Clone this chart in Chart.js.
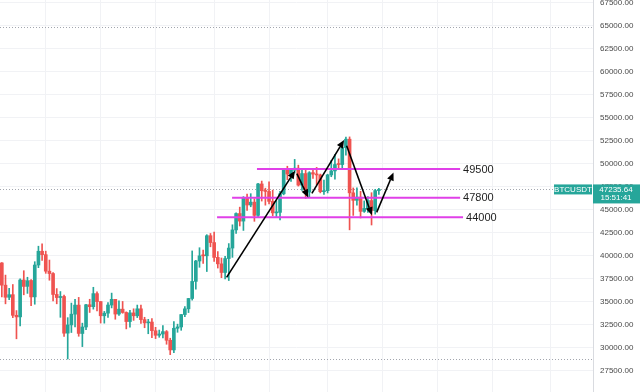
<!DOCTYPE html>
<html><head><meta charset="utf-8">
<script src="https://cdn.jsdelivr.net/npm/chart.js@4"></script>
<style>html,body{margin:0;padding:0;background:#fff;}#wrap{width:640px;height:392px;}</style>
</head><body><div id="wrap"><canvas id="c" width="640" height="392"></canvas></div>
<script>
// BTCUSDT daily candles, 2021-06-04 .. 2021-09-15
const startDate = '2021-06-04';
const slotCount = 162;
const opens  = [39246,36829,35516,35796,33556,33381,37389,36698,37340,35555,39020,40516,40143,38350,38092,35820,35484,35600,31614,32510,33675,34663,31577,32283,34702,34494,35911,35045,33502,33786,34669,35288,33690,34220,33863,32875,33816,33502,34259,33086,32729,32820,31874,31384,31521,31778,30839,29790,32144,32287,33635,34261,35381,37241,39456,40020,40018,42207,41461,39850,39147,38207,39723,40862,42836,44614,43794,46280,45543,45854,44415,47832,47097,47019,45936,44686,44741,46763,49339,48906,49322,49546,47707,48960,46942,49058,48903,48811,46991,47100,48811,49247,49944,49940,51786,52698,46864,46049,46395,44851,45173,46026,44940,47111];
const highs  = [39289,37925,36480,36900,34068,37530,38400,37690,37441,39380,41064,41330,40527,39559,38202,36457,36137,35750,33298,34881,35298,35500,32700,34749,35297,36600,36100,35057,33977,34945,35967,35293,35118,35059,33929,34100,34262,34666,34678,33340,33114,33185,32249,31950,32435,31899,31063,32858,32591,33650,34500,35398,40550,39542,40900,40640,42316,42448,42599,40480,39780,39969,41350,43392,44700,45310,46454,46718,46774,46218,47886,48144,47372,48053,47160,46000,47033,49382,49757,49500,50500,49875,49300,49375,49169,49475,49630,48907,48250,48888,50400,51054,50558,51900,52920,52944,47399,47400,47033,45985,46460,46880,47250,47360];
const lows   = [35555,34800,35258,33300,31000,32396,35782,35936,34600,34757,38730,39506,38116,37365,35129,34803,33336,31251,28805,31683,32286,31275,30151,32000,33862,34225,34017,32711,32699,33316,34357,33125,33532,33777,32077,32261,33004,33306,32658,32202,31550,31133,31020,31164,31108,30407,29278,29482,31708,31924,33401,33851,35205,36383,38772,39200,38313,41000,39422,38690,37642,37508,37332,39853,42446,43261,42779,44960,45351,43770,44218,45971,45525,45660,44376,44203,43927,46646,48300,48100,49029,47600,47136,46250,46362,48432,47762,46862,46700,46853,48617,48352,49400,49500,50969,42843,44412,45514,44134,44743,44742,43370,44550,46700];
const closes = [36829,35513,35796,33552,33380,37389,36693,37313,35551,39020,40516,40144,38349,38092,35819,35483,35600,31608,32509,33678,34663,31584,32283,34700,34494,35911,35045,33504,33786,34669,35287,33690,34220,33862,32875,33815,33502,34259,33086,32730,32820,31880,31383,31521,31778,30839,29790,32144,32287,33634,34258,35381,37237,39457,40019,40016,42206,41461,39845,39147,38207,39723,40862,42836,44614,43792,46285,45543,45854,44415,47832,47096,47019,45936,44686,44741,46763,49339,48905,49321,49546,47706,48960,46942,49058,48903,48811,46991,47100,48810,49247,49943,49940,51786,52699,46864,46049,46395,44851,45172,46026,44940,47111,47235.64];

// price axis
const priceMin = 25217, priceMax = 67826;
const priceTicks = [27500,30000,32500,35000,37500,40000,42500,45000,47500,50000,52500,55000,57500,60000,62500,65000,67500];
// reference price lines (all-time high, range low, last price)
const refLines = [64854, 28805, 47235.64];
// drawn horizontal levels (value on axis, label text, start/end candle index)
const levelValues = [49450, 46340, 44200];
const levelLabels = ['49500', '47800', '44000'];
const levelFrom   = [69.7, 62.9, 58.8];
const levelTo     = [125.2, 125.2, 126.0];
// drawn arrows (candle index, price)
const arrowFromIdx   = [61.4, 80.6, 84.7, 94.2, 102.4];
const arrowFromPrice = [37674, 48946, 46804, 51989, 44739];
const arrowToIdx     = [80.1, 83.7, 93.5, 101.1, 107.0];
const arrowToPrice   = [49272, 46370, 52609, 44435, 49087];
const symbol = 'BTCUSDT';
const countdown = '15:51:41';

const labels = [];
{
  const d0 = new Date(startDate + 'T00:00:00Z');
  for (let i = 0; i < slotCount; i++) {
    const d = new Date(d0.getTime() + i * 86400000);
    labels.push(d.toISOString().slice(0, 10));
  }
}
const UP = '#26a69a', DOWN = '#ef5350';
const candleColors = opens.map((o, i) => closes[i] >= o ? UP : DOWN);

function drawArrow(ctx, x1, y1, x2, y2) {
  const a = Math.atan2(y2 - y1, x2 - x1);
  const L = 8, W = 3.5;
  const bx = x2 - L * Math.cos(a), by = y2 - L * Math.sin(a);
  ctx.beginPath(); ctx.moveTo(x1, y1); ctx.lineTo(bx, by); ctx.stroke();
  ctx.beginPath(); ctx.moveTo(x2, y2);
  ctx.lineTo(bx + W * Math.sin(a), by - W * Math.cos(a));
  ctx.lineTo(bx - W * Math.sin(a), by + W * Math.cos(a));
  ctx.closePath(); ctx.fill();
}

const annot = {
  id: 'annot',
  beforeDatasetsDraw(chart) {
    const { ctx, chartArea: ca, scales: { y } } = chart;
    ctx.save();
    ctx.strokeStyle = '#a3a6ae'; ctx.lineWidth = 1; ctx.setLineDash([1, 2]);
    refLines.forEach(v => {
      const py = Math.round(y.getPixelForValue(v)) + 0.5;
      ctx.beginPath(); ctx.moveTo(ca.left, py); ctx.lineTo(ca.right, py); ctx.stroke();
    });
    ctx.restore();
  },
  afterDatasetsDraw(chart) {
    const { ctx, chartArea: ca, scales: { x, y } } = chart;
    ctx.save();
    ctx.beginPath(); ctx.rect(ca.left, ca.top, ca.right - ca.left, ca.bottom - ca.top); ctx.clip();
    ctx.strokeStyle = '#e040e8'; ctx.lineWidth = 2;
    levelValues.forEach((v, i) => {
      const py = y.getPixelForValue(v);
      ctx.beginPath(); ctx.moveTo(x.getPixelForValue(levelFrom[i]), py); ctx.lineTo(x.getPixelForValue(levelTo[i]), py); ctx.stroke();
    });
    ctx.fillStyle = '#1e1e1e'; ctx.font = '11px "Liberation Sans", Arial, sans-serif';
    ctx.textBaseline = 'middle'; ctx.textAlign = 'left';
    levelValues.forEach((v, i) => {
      ctx.fillText(levelLabels[i], x.getPixelForValue(levelTo[i]) + 3, y.getPixelForValue(v) + 0.5);
    });
    ctx.strokeStyle = '#000'; ctx.fillStyle = '#000'; ctx.lineWidth = 1.6;
    arrowFromIdx.forEach((fi, i) => {
      drawArrow(ctx, x.getPixelForValue(fi), y.getPixelForValue(arrowFromPrice[i]),
                x.getPixelForValue(arrowToIdx[i]), y.getPixelForValue(arrowToPrice[i]));
    });
    ctx.restore();
  },
  afterDraw(chart) {
    const { ctx, chartArea: ca, scales: { y } } = chart;
    const last = closes[closes.length - 1];
    const py = y.getPixelForValue(last);
    ctx.save();
    ctx.fillStyle = UP;
    ctx.fillRect(ca.right - 39, py - 5, 38, 10);
    ctx.fillRect(ca.right, py - 5, chart.width - ca.right, 19);
    ctx.fillStyle = '#fff'; ctx.font = '8px "Liberation Sans", Arial, sans-serif';
    ctx.textBaseline = 'middle'; ctx.textAlign = 'center';
    ctx.fillText(symbol, ca.right - 20, py + 0.5);
    ctx.fillText(last.toFixed(2), ca.right + 23, py + 0.5);
    ctx.fillText(countdown, ca.right + 23, py + 8.5);
    ctx.restore();
  }
};

new Chart(document.getElementById('c'), {
  type: 'bar',
  data: {
    labels: labels,
    datasets: [
      { label: 'body', data: opens.map((o, i) => [o, closes[i]]), backgroundColor: candleColors,
        barThickness: 3, grouped: false, minBarLength: 1, borderWidth: 0 },
      { label: 'wick', data: lows.map((l, i) => [l, highs[i]]), backgroundColor: candleColors,
        barThickness: 1, grouped: false, borderWidth: 0 }
    ]
  },
  options: {
    responsive: false, animation: false, maintainAspectRatio: false,
    layout: { padding: 0 },
    plugins: { legend: { display: false }, tooltip: { enabled: false } },
    scales: {
      x: {
        display: true, offset: true,
        ticks: { display: false, autoSkip: false },
        grid: { offset: false, drawTicks: false, lineWidth: 1,
          color: c => { const l = labels[c.index] || ''; const d = l.slice(8, 10); return (d === '01' || d === '16') ? '#f1f2f5' : 'rgba(0,0,0,0)'; } },
        border: { display: false },
        afterFit: s => { s.height = 0; s.paddingLeft = 0; s.paddingRight = 0; }
      },
      y: {
        position: 'right', min: priceMin, max: priceMax,
        afterBuildTicks: s => { s.ticks = priceTicks.map(v => ({ value: v })); },
        ticks: { padding: 7, color: '#4a4a4a',
          font: { family: '"Liberation Sans", Arial, sans-serif', size: 8 },
          callback: v => Number(v).toFixed(2) },
        grid: { drawTicks: false, color: '#f1f2f5', lineWidth: 1 },
        border: { display: true, color: '#d9dbe0' },
        afterFit: s => { s.width = 47; s.paddingTop = 0; s.paddingBottom = 0; }
      }
    }
  },
  plugins: [annot]
});
</script></body></html>
